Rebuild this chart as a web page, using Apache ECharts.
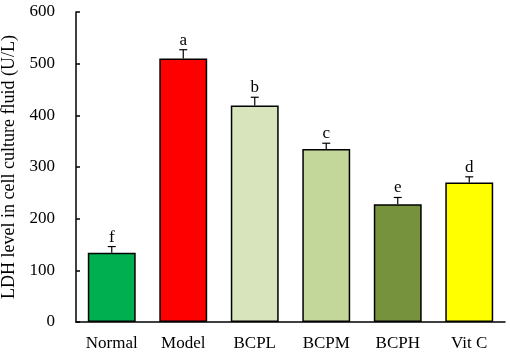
<!DOCTYPE html>
<html>
<head>
<meta charset="utf-8">
<script src="https://cdn.jsdelivr.net/npm/echarts@6/dist/echarts.min.js"></script>
<style>
  html, body { margin: 0; padding: 0; background: #fff; }
  #chart { width: 510px; height: 354px; }
</style>
</head>
<body>
<div id="chart"></div>
<script>
const groups = ['Normal', 'Model', 'BCPL', 'BCPM', 'BCPH', 'Vit C'];
const ldh = [134, 510, 419, 335, 228, 270];
const sd = [12, 17, 16, 11, 13, 11];
const letters = ['f', 'a', 'b', 'c', 'e', 'd'];
const barColors = ['#00B050', '#FF0000', '#D8E4BC', '#C4D79B', '#76923C', '#FFFF00'];

const FONT = '"Liberation Serif", "Times New Roman", serif';

const chart = echarts.init(document.getElementById('chart'), null, { renderer: 'canvas' });

chart.setOption({
  animation: false,
  grid: { left: 76, right: 5, top: 12, bottom: 32, containLabel: false, outerBoundsMode: 'none' },
  xAxis: {
    type: 'category',
    data: groups,
    axisLine: { lineStyle: { color: '#000', width: 1.5 } },
    axisTick: { inside: true, length: 5, lineStyle: { color: '#000', width: 1.5 } },
    axisLabel: { color: '#000', fontFamily: FONT, fontSize: 17, margin: 13 },
  },
  yAxis: {
    type: 'value',
    min: 0,
    max: 600,
    interval: 100,
    name: 'LDH level in cell culture fluid (U/L)',
    nameLocation: 'middle',
    nameGap: 52,
    nameTextStyle: { color: '#000', fontFamily: FONT, fontSize: 18 },
    splitLine: { show: false },
    axisLine: { show: true, lineStyle: { color: '#000', width: 1.5 } },
    axisTick: { show: true, inside: true, length: 4, lineStyle: { color: '#000', width: 1.5 } },
    axisLabel: { color: '#000', fontFamily: FONT, fontSize: 17, margin: 21 },
  },
  series: [
    {
      type: 'bar',
      barWidth: '67%',
      data: ldh.map((v, i) => ({
        value: v,
        itemStyle: { color: barColors[i], borderColor: '#000', borderWidth: 1.5 },
      })),
    },
    {
      type: 'custom',
      data: ldh.map((v, i) => [i, v, sd[i]]),
      renderItem: (params, api) => {
        const i = api.value(0);
        const mean = api.value(1);
        const err = api.value(2);
        const base = api.coord([i, mean]);
        const top = api.coord([i, mean + err]);
        const cap = 4;
        return {
          type: 'group',
          children: [
            { type: 'line', shape: { x1: base[0], y1: base[1], x2: top[0], y2: top[1] }, style: { stroke: '#000', lineWidth: 1.2 } },
            { type: 'line', shape: { x1: top[0] - cap, y1: top[1], x2: top[0] + cap, y2: top[1] }, style: { stroke: '#000', lineWidth: 1.2 } },
            {
              type: 'text',
              x: top[0],
              y: top[1] - 1,
              style: {
                text: letters[params.dataIndex],
                fill: '#000',
                font: '17px ' + FONT,
                align: 'center',
                verticalAlign: 'bottom',
              },
            },
          ],
        };
      },
      z: 5,
    },
  ],
});
</script>
</body>
</html>
